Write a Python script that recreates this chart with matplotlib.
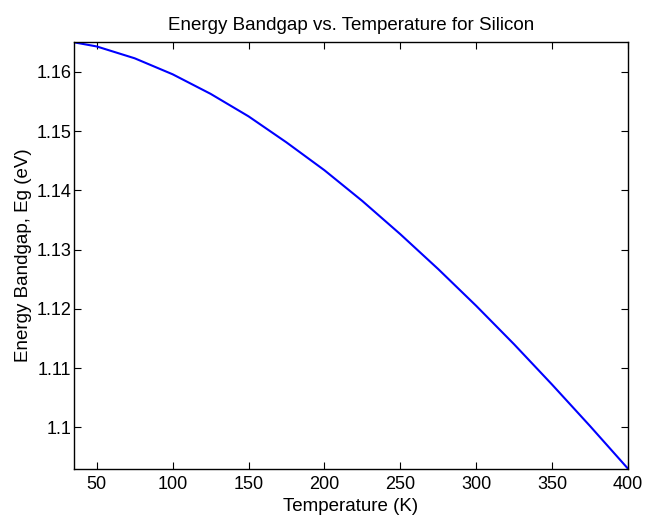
import numpy as np
import matplotlib
matplotlib.use('Agg')
import matplotlib.pyplot as plt

# Values
temperature = [35, 50, 75, 100, 125, 150, 175, 200, 225, 250, 275, 300, 325, 350, 375, 400]
bandgap = [1.1650, 1.1643, 1.1623, 1.1596, 1.1563, 1.1525, 1.1481, 1.1434,
           1.1382, 1.1326, 1.1267, 1.1205, 1.1140, 1.1072, 1.1002, 1.0930]
x_ticks = [50, 100, 150, 200, 250, 300, 350, 400]
y_ticks = [1.10, 1.11, 1.12, 1.13, 1.14, 1.15, 1.16]
y_tick_labels = ['1.1', '1.11', '1.12', '1.13', '1.14', '1.15', '1.16']

plt.rcParams['font.family'] = ['Liberation Sans', 'DejaVu Sans']

fig = plt.figure(figsize=(6.45, 5.16), dpi=100)
ax = fig.add_axes([0.1147, 0.0917, 0.8589, 0.8263])

ax.plot(temperature, bandgap, color='#0000ff', linewidth=1.5)

ax.set_xlim(35, 400)
ax.set_ylim(1.0930, 1.1650)
ax.set_xticks(x_ticks)
ax.set_yticks(y_ticks)
ax.set_yticklabels(y_tick_labels)
ax.tick_params(direction='in', top=True, right=True, labelsize=13, length=5, width=0.8)
ax.tick_params(axis='x', pad=5)
ax.tick_params(axis='y', pad=2)
for s in ax.spines.values():
    s.set_linewidth(1.0)

ax.set_title('Energy Bandgap vs. Temperature for Silicon', fontsize=13.5, pad=9)
ax.set_xlabel('Temperature (K)', fontsize=13.5, labelpad=4)
ax.set_ylabel('Energy Bandgap, Eg (eV)', fontsize=13.5, labelpad=3)

fig.savefig('out.png', dpi=100)
